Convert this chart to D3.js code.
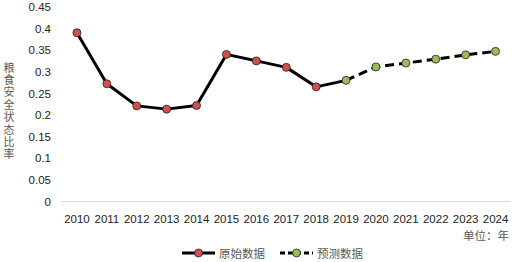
<!DOCTYPE html>
<html>
<head>
<meta charset="utf-8">
<script src="https://cdn.jsdelivr.net/npm/d3@7"></script>
<style>
  body { margin: 0; background: #fff; }
  svg { display: block; font-family: Calibri, Carlito, "Open Sans", sans-serif; }
</style>
</head>
<body>
<svg id="chart" width="516" height="262"></svg>
<script>
var years = ['2010', '2011', '2012', '2013', '2014', '2015', '2016', '2017',
  '2018', '2019', '2020', '2021', '2022', '2023', '2024']
var originalYears = ['2010', '2011', '2012', '2013', '2014', '2015', '2016', '2017', '2018', '2019']
var originalValues = [0.39, 0.272, 0.221, 0.2135, 0.222, 0.34, 0.325, 0.31, 0.265, 0.28]
var forecastYears = ['2019', '2020', '2021', '2022', '2023', '2024']
var forecastValues = [0.28, 0.311, 0.32, 0.329, 0.339, 0.347]
var yTicks = [0, 0.05, 0.1, 0.15, 0.2, 0.25, 0.3, 0.35, 0.4, 0.45]
var seriesNames = ['原始数据', '预测数据']

var svg = d3.select('#chart')
var red = '#d0504d', green = '#9bbb59'

var x = d3.scaleBand().domain(years).range([62, 510.5])
var y = d3.scaleLinear().domain([0, 0.45]).range([201.5, 6.8])

// y axis labels, no line
var yAxis = svg.append('g')
  .attr('transform', 'translate(56,0)')
  .call(d3.axisLeft(y).tickValues(yTicks).tickSize(0).tickPadding(5)
    .tickFormat(function(d) { return d === 0 ? '0' : String(+d.toFixed(2)) }))
yAxis.select('.domain').remove()
yAxis.selectAll('text').attr('font-size', 11.5).attr('fill', '#222')

// x axis
svg.append('line')
  .attr('x1', 62).attr('x2', 510.5)
  .attr('y1', y(0)).attr('y2', y(0))
  .attr('stroke', '#d9d9d9').attr('stroke-width', 1)
var xAxis = svg.append('g')
  .attr('transform', 'translate(0,' + y(0) + ')')
  .call(d3.axisBottom(x).tickSize(0).tickPadding(13))
xAxis.select('.domain').remove()
xAxis.selectAll('text').attr('font-size', 11.5).attr('fill', '#222')

// y title, written top to bottom as one text
svg.append('text')
  .attr('x', 9).attr('y', 62)
  .attr('writing-mode', 'tb')
  .style('writing-mode', 'vertical-rl')
  .style('text-orientation', 'upright')
  .attr('letter-spacing', 1.4)
  .attr('font-family', '"Noto Sans CJK SC", sans-serif')
  .attr('font-size', 11).attr('fill', '#595959')
  .text('粮食安全状态比率')

svg.append('text')
  .attr('x', 509).attr('y', 240)
  .attr('text-anchor', 'end')
  .attr('font-family', '"Noto Sans CJK SC", sans-serif')
  .attr('font-size', 11.5).attr('fill', '#595959')
  .text('单位：年')

var cx = function(d) { return x(d) + x.bandwidth() / 2 }
var line = d3.line()
  .x(function(d) { return cx(d[0]) })
  .y(function(d) { return y(d[1]) })

var orig = d3.zip(originalYears, originalValues)
var fore = d3.zip(forecastYears, forecastValues)

svg.append('path').datum(orig)
  .attr('d', line).attr('fill', 'none')
  .attr('stroke', '#000').attr('stroke-width', 3).attr('stroke-linejoin', 'round')
svg.append('path').datum(fore)
  .attr('d', line).attr('fill', 'none')
  .attr('stroke', '#000').attr('stroke-width', 3).attr('stroke-dasharray', '9,5')

svg.append('g').selectAll('circle')
  .data(orig.slice(0, orig.length - 1))
  .enter().append('circle')
  .attr('cx', function(d) { return cx(d[0]) })
  .attr('cy', function(d) { return y(d[1]) })
  .attr('r', 4).attr('fill', red).attr('stroke', '#222').attr('stroke-width', 0.8)
svg.append('g').selectAll('circle')
  .data(fore)
  .enter().append('circle')
  .attr('cx', function(d) { return cx(d[0]) })
  .attr('cy', function(d) { return y(d[1]) })
  .attr('r', 4).attr('fill', green).attr('stroke', '#222').attr('stroke-width', 0.8)

// legend
var legend = [
  { name: seriesNames[0], x: 182, color: red, dash: null },
  { name: seriesNames[1], x: 280, color: green, dash: '5,3' }
]
var lg = svg.append('g').selectAll('g').data(legend).enter().append('g')
  .attr('transform', function(d) { return 'translate(' + d.x + ',253)' })
lg.append('line')
  .attr('x1', 0).attr('x2', 33).attr('y1', 0).attr('y2', 0)
  .attr('stroke', '#000').attr('stroke-width', 3)
  .attr('stroke-dasharray', function(d) { return d.dash })
lg.append('circle')
  .attr('cx', 16.5).attr('cy', 0).attr('r', 4)
  .attr('fill', function(d) { return d.color }).attr('stroke', '#222').attr('stroke-width', 0.8)
lg.append('text')
  .attr('x', 37).attr('y', 4.5)
  .attr('font-family', '"Noto Sans CJK SC", sans-serif')
  .attr('font-size', 11.5).attr('fill', '#595959')
  .text(function(d) { return d.name })
</script>
</body>
</html>
